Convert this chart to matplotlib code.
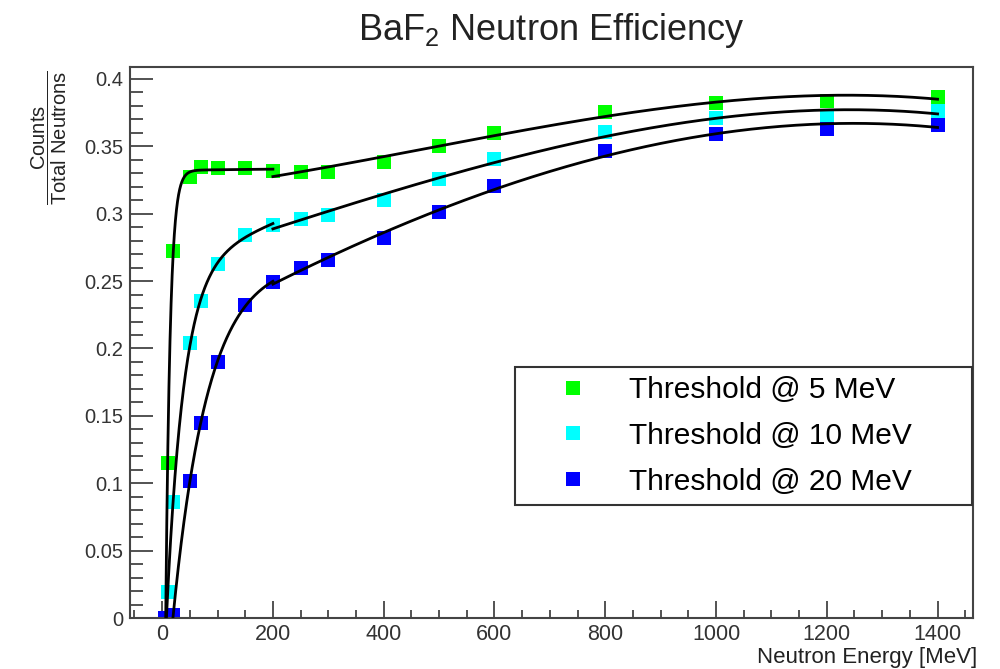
import numpy as np
import matplotlib
matplotlib.use("Agg")
import matplotlib.pyplot as plt
from matplotlib.ticker import MultipleLocator, FuncFormatter
from matplotlib.lines import Line2D

plt.rcParams['font.family'] = ['Liberation Sans', 'DejaVu Sans']
plt.rcParams['mathtext.fontset'] = 'custom'
plt.rcParams['mathtext.rm'] = 'Liberation Sans'

# neutron energy [MeV]
energy = np.array([5, 10, 20, 50, 70, 100, 150, 200, 250, 300,
                   400, 500, 600, 800, 1000, 1200, 1400])
eff_5mev = np.array([0.0, 0.115, 0.272, 0.3275, 0.335, 0.334, 0.334, 0.3315,
                     0.331, 0.331, 0.3386, 0.3505, 0.3602, 0.3758, 0.3824,
                     0.3839, 0.3869])
eff_10mev = np.array([0.0, 0.019, 0.086, 0.204, 0.235, 0.263, 0.284, 0.292,
                      0.296, 0.299, 0.3102, 0.3258, 0.3409, 0.3609, 0.3713,
                      0.3720, 0.3763])
eff_20mev = np.array([0.0, 0.0, 0.002, 0.102, 0.145, 0.19, 0.232, 0.2496,
                      0.2595, 0.2657, 0.2818, 0.3015, 0.3206, 0.3466, 0.3592,
                      0.3627, 0.3659])
labels = ['Threshold @ 5 MeV', 'Threshold @ 10 MeV', 'Threshold @ 20 MeV']
colors = ['#00ff00', '#00ffff', '#0000ff']
split = 200


def rise_basis(x, x0, tau):
    dx = np.clip(x - x0, 0, None)
    return np.column_stack([1 - np.exp(-dx / tau), dx])


def fit_rise(x, y):
    # a*(1-exp(-(x-x0)/tau)) + b*(x-x0), brute force over x0, tau
    best = None
    for x0 in np.linspace(0, 25, 101):
        for tau in np.linspace(1, 80, 159):
            A = rise_basis(x, x0, tau)
            coef, *_ = np.linalg.lstsq(A, y, rcond=None)
            res = np.sum((A @ coef - y) ** 2)
            if best is None or res < best[0]:
                best = (res, x0, tau, coef)
    return best[1:]


fig = plt.figure(figsize=(10, 6.69), dpi=100)
ax = fig.add_axes([0.13, 1 - 618 / 669, 0.843, 551 / 669])

for y, c, lab in zip([eff_5mev, eff_10mev, eff_20mev], colors, labels):
    ax.plot(energy, y, 's', color=c, ms=10.5, mew=0, label=lab, zorder=2)

    low = energy <= split
    x0, tau, coef = fit_rise(energy[low], y[low])
    xs = np.linspace(x0, split, 400)
    ax.plot(xs, rise_basis(xs, x0, tau) @ coef, color='black', lw=2, zorder=3)

    high = energy >= split
    p = np.polyfit(energy[high], y[high], 3)
    xs = np.linspace(split, 1400, 400)
    ax.plot(xs, np.polyval(p, xs), color='black', lw=2, zorder=3)

ax.set_xlim(-58, 1464)
ax.set_ylim(0, 0.4089)

ax.xaxis.set_major_locator(MultipleLocator(200))
ax.xaxis.set_minor_locator(MultipleLocator(50))
ax.yaxis.set_major_locator(MultipleLocator(0.05))
ax.yaxis.set_minor_locator(MultipleLocator(0.01))
ax.yaxis.set_major_formatter(FuncFormatter(lambda v, pos: '%g' % round(v, 3)))

ax.tick_params(which='both', direction='in', top=False, right=False,
               color='#444444', width=1.3)
ax.xaxis.set_tick_params(which='major', length=12, pad=4, labelsize=15.5,
                         labelcolor='#333333')
ax.xaxis.set_tick_params(which='minor', length=6)
ax.yaxis.set_tick_params(which='major', length=16.5, pad=5, labelsize=14.5,
                         labelcolor='#333333')
ax.yaxis.set_tick_params(which='minor', length=9)
for s in ax.spines.values():
    s.set_color('#444444')
    s.set_linewidth(1.5)

handles = [Line2D([], [], marker='s', ls='none', color=c, ms=10.5, mew=0)
           for c in colors]
leg = ax.legend(handles, labels, loc='upper left',
                bbox_to_anchor=(0.4567, 0.4555, 0.542, 0.0), mode='expand',
                borderaxespad=0, fontsize=21.5, frameon=True, fancybox=False,
                edgecolor='#333333', framealpha=1, borderpad=0.3,
                labelspacing=0.6, handlelength=3.3, handletextpad=0.22)
leg.get_frame().set_linewidth(1.5)

fig.text(0.551, 1 - 30 / 669, r'BaF$_\mathregular{2}$ Neutron Efficiency',
         ha='center', va='center', fontsize=26, color='#222222')
fig.text(0.049, 1 - 138 / 669,
         r'$\dfrac{\mathregular{Counts}}{\mathregular{Total\ Neutrons}}$',
         rotation=90, ha='center', va='center', fontsize=14.5, color='#222222')
fig.text(0.977, 1 - 658 / 669, 'Neutron Energy [MeV]', ha='right',
         va='center', fontsize=16, color='#222222')

fig.savefig('out.png', dpi=100)
